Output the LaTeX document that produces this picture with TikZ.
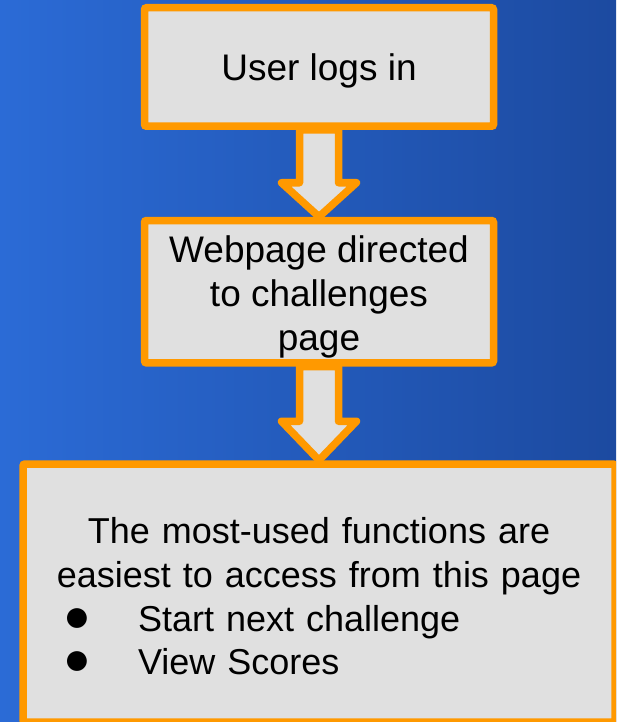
\documentclass[tikz,border=0pt]{standalone}
\usepackage{fontspec}
\setmainfont{Liberation Sans}
\usetikzlibrary{calc}

\definecolor{bgLight}{HTML}{2B6BD6}
\definecolor{bgDark}{HTML}{1C4AA0}
\definecolor{boxOrange}{HTML}{FF9900}
\definecolor{boxGrey}{HTML}{E0E0E0}

\pgfdeclarelayer{back}
\pgfdeclarelayer{flow}
\pgfsetlayers{back,flow,main}

\newcommand{\menubullet}{\rlap{\smash{\fontsize{46}{0}\selectfont ●}}}

\tikzset{
    stepbox/.style={draw=boxOrange, fill=boxGrey, line width=7.5pt, rounded corners=2pt,
        font=\fontsize{37}{43.7}\selectfont, align=center},
    blockarrow/.style={draw=boxOrange, fill=boxGrey, line width=7.5pt, line join=round}
}

\begin{document}
\begin{tikzpicture}[x=1pt, y=-1pt]
    \useasboundingbox (0,0) rectangle (616,722);

    % Background
    \begin{pgfonlayer}{back}
        \shade[left color=bgLight, right color=bgDark] (0,0) rectangle (616,722);
    \end{pgfonlayer}
    \clip (0,0) rectangle (616,722);

    % Steps
    \node[stepbox, minimum width=349, minimum height=118.5, text depth=0pt] (login) at (319,67) {User logs in};
    \node[stepbox, minimum width=349, minimum height=142.4] (redirect) at (319,291.7)
        {\rule{0pt}{37pt}Webpage directed\\to challenges\\page};
    \node[stepbox, font=\fontsize{36}{43.7}\selectfont, minimum width=592, minimum height=258,
        text width=560pt] (menu) at (319,593)
        {\rule{0pt}{33pt}The most-used functions are\\easiest to access from this page\\
         \makebox[560pt][l]{\hspace*{24pt}\menubullet\hspace*{75pt}Start next challenge}\\
         \makebox[560pt][l]{\hspace*{24pt}\menubullet\hspace*{75pt}View Scores}};

    % Block arrows between steps
    \begin{pgfonlayer}{flow}
        \foreach \from/\to/\h in {login/redirect/34, redirect/menu/39}
            \draw[blockarrow] ($(\from.south)+(-19.5,0)$) -- ($(\to.north)+(-19.5,-\h)$)
                -- ($(\to.north)+(-37.5,-\h)$) -- (\to.north) -- ($(\to.north)+(37.5,-\h)$)
                -- ($(\to.north)+(19.5,-\h)$) -- ($(\from.south)+(19.5,0)$) -- cycle;
    \end{pgfonlayer}
\end{tikzpicture}
\end{document}
